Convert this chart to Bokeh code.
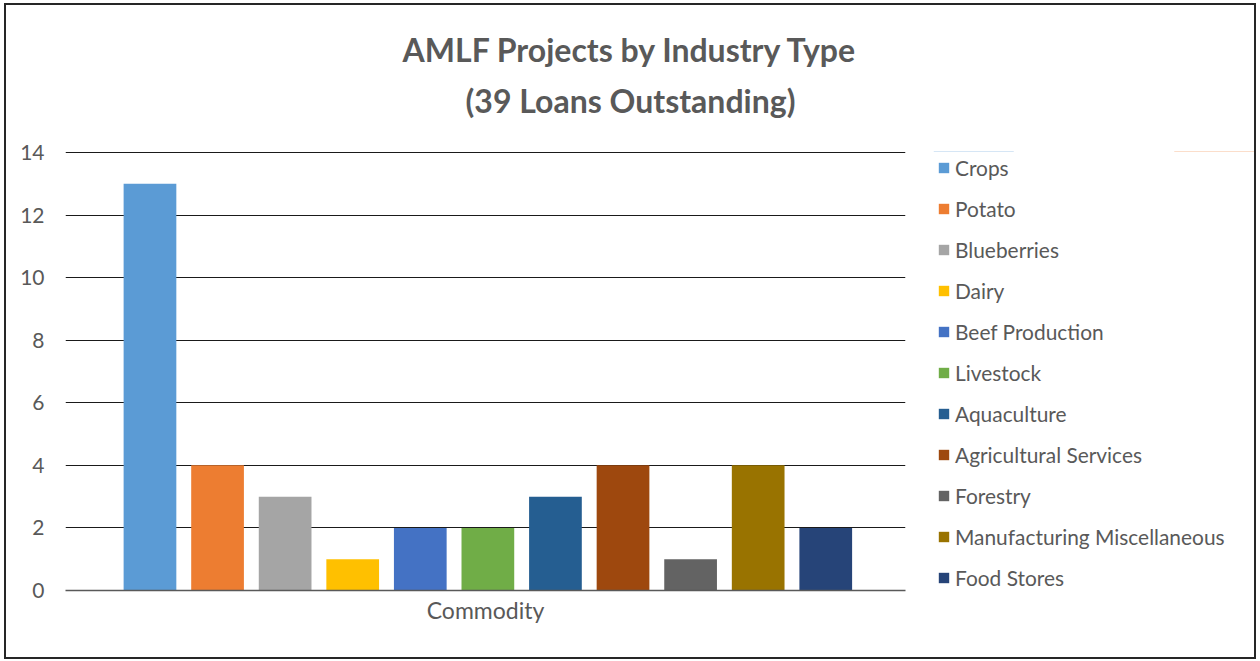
from bokeh.plotting import figure
from bokeh.models import Range1d, Legend, LegendItem, Label, FixedTicker
from bokeh.layouts import column, row
from bokeh.embed import file_html
from bokeh.resources import INLINE
import numpy as np

series = ["Crops", "Potato", "Blueberries", "Dairy", "Beef Production", "Livestock",
          "Aquaculture", "Agricultural Services", "Forestry", "Manufacturing Miscellaneous",
          "Food Stores"]
values = [13, 4, 3, 1, 2, 2, 3, 4, 1, 4, 2]
colors = ["#5B9BD5", "#ED7D31", "#A5A5A5", "#FFC000", "#4472C4", "#70AD47",
          "#255E91", "#9E480E", "#636363", "#997300", "#264478"]
category = "Commodity"
title_lines = ["AMLF Projects by Industry Type", "(39 Loans Outstanding)"]
y_ticks = [0, 2, 4, 6, 8, 10, 12, 14]

FONT = "Lato"
TXT = "#595959"


def blank(fig):
    fig.axis.visible = False
    fig.grid.grid_line_color = None
    fig.outline_line_color = None
    fig.background_fill_color = "white"
    fig.border_fill_color = "white"


# ---- title strip ----
pt = figure(width=1248, height=124, output_backend="svg", toolbar_location=None,
            x_range=Range1d(0, 1), y_range=Range1d(0, 1),
            min_border_left=0, min_border_right=0, min_border_top=0, min_border_bottom=0)
blank(pt)
for txt, yy in zip(title_lines, [80, 29]):
    pt.add_layout(Label(x=624, y=yy, x_units="screen", y_units="screen", text=txt,
                        text_align="center", text_baseline="middle", text_font=FONT,
                        text_font_style="bold", text_font_size="32px", text_color=TXT))

# ---- main chart ----
p = figure(width=927, height=528, output_backend="svg", toolbar_location=None,
           x_range=Range1d(-1.25, 11.18), y_range=Range1d(0, 14.03),
           min_border_left=59, min_border_right=28, min_border_top=22, min_border_bottom=67)
p.outline_line_color = None
p.background_fill_color = "white"
p.border_fill_color = "white"

xs = np.arange(len(series))
for i, s in enumerate(series):
    p.vbar(x=[xs[i]], top=[values[i]], width=0.78, color=colors[i], line_color=None)

p.xaxis.ticker = FixedTicker(ticks=[])
p.xaxis.axis_label = category
p.xaxis.axis_label_text_font = FONT
p.xaxis.axis_label_text_font_style = "normal"
p.xaxis.axis_label_text_font_size = "23px"
p.xaxis.axis_label_text_color = TXT
p.xaxis.axis_label_standoff = 5
p.xaxis.major_tick_out = 0
p.xaxis.major_tick_in = 0
p.xaxis.major_label_standoff = 0
p.xaxis.major_tick_line_color = None
p.xaxis.minor_tick_line_color = None
p.xaxis.axis_line_color = "#595959"
p.xaxis.axis_line_width = 1.5
p.xgrid.grid_line_color = None

p.yaxis.ticker = FixedTicker(ticks=y_ticks)
p.yaxis.axis_line_color = None
p.yaxis.major_tick_line_color = None
p.yaxis.minor_tick_line_color = None
p.yaxis.major_label_text_font = FONT
p.yaxis.major_label_text_font_size = "21px"
p.yaxis.major_label_text_color = TXT
p.yaxis.major_label_standoff = 15
p.ygrid.grid_line_color = "#1a1a1a"
p.ygrid.grid_line_width = 1

# ---- legend panel (swatch renderers kept outside its visible range) ----
pl = figure(width=321, height=528, output_backend="svg", toolbar_location=None,
            x_range=Range1d(0, 1), y_range=Range1d(-2, -1),
            min_border_left=0, min_border_right=0, min_border_top=0, min_border_bottom=0)
blank(pl)
swatches = [pl.vbar(x=[xs[i]], top=[values[i]], width=0.5, color=colors[i], line_color=None)
            for i in range(len(series))]
legend = Legend(items=[LegendItem(label=s, renderers=[r]) for s, r in zip(series, swatches)],
                location="top_left", padding=0, margin=4, border_line_color=None,
                background_fill_alpha=0, glyph_width=13, glyph_height=13,
                label_height=25, spacing=16, label_standoff=5,
                label_text_font=FONT, label_text_font_size="20.9px", label_text_color=TXT)
pl.add_layout(legend, "center")

layout = column(pt, row(p, pl))
layout.styles = {"border": "2px solid #262626", "margin": "3px 0 0 4px"}

open("out.html", "w").write(file_html(layout, INLINE))
